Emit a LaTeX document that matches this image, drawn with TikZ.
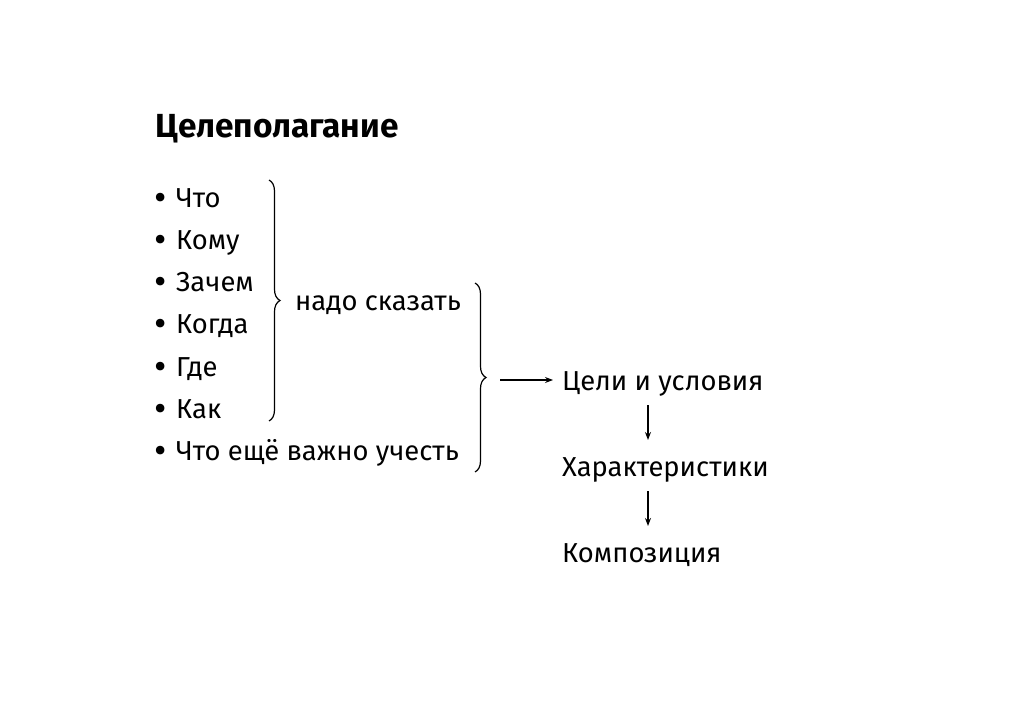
\documentclass[tikz,border=0pt]{standalone}
\usepackage{fontspec}
\setmainfont{Fira Sans}
\usetikzlibrary{arrows.meta, positioning, calc, decorations.pathreplacing}

\begin{document}
\begin{tikzpicture}[
            x=1bp, y=-1bp,
            txt/.style={anchor=base west, inner sep=0pt, font=\fontsize{27.5}{34}\selectfont},
            title/.style={anchor=base west, inner sep=0pt, font=\fontsize{33.5}{40}\selectfont\bfseries},
            bracer/.style={decorate, decoration={brace, amplitude=11bp, raise=0bp}, line width=1.2bp},
            link/.style={-{Stealth[length=8bp, width=6bp]}, line width=1.2bp}
        ]
            \useasboundingbox (0,0) rectangle (1024,724);
            % Title
            \node[title] (head) at (155, 138) {Целеполагание};
            % Questions
            \foreach \t [count=\i] in {Что,Кому,Зачем,Когда,Где,Как,Что ещё важно учесть} {
                \node[txt] (q\i) at (154, 164.7+42.3*\i) {\makebox[22bp][l]{\raisebox{-3bp}{\fontsize{38}{34}\selectfont\textbullet}}\t};
            }
            % Braces
            \coordinate (b1top) at (269, 180);
            \coordinate (b1bot) at (269, 421);
            \coordinate (b2top) at (475, 283);
            \coordinate (b2bot) at (475, 472);
            \draw[bracer] (b1top) -- (b1bot);
            \draw[bracer] (b2top) -- (b2bot);
            \node[txt] (say) at (295, 310) {надо сказать};
            % Results
            \node[txt] (goals) at (562, 390) {Цели и условия};
            \node[txt] (chars) at (562, 476) {Характеристики};
            \node[txt] (comp) at (562, 562) {Композиция};
            \coordinate (tip) at (500, 380);
            \draw[link] (tip) -- ($(goals.west |- tip)+(-9,0)$);
            \draw[link] ($(goals.base west)+(86,15)$) -- ($(chars.base west)+(86,-36)$);
            \draw[link] ($(chars.base west)+(86,15)$) -- ($(comp.base west)+(86,-36)$);
        \end{tikzpicture}
\end{document}
